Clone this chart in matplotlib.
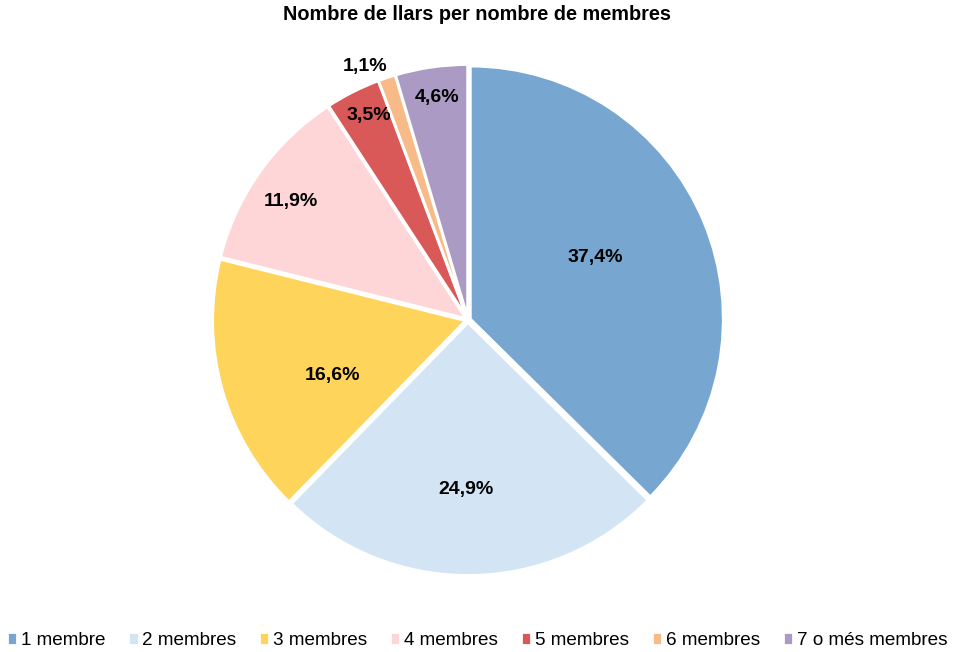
#!/usr/bin/env python3
import numpy as np
import matplotlib
matplotlib.use("Agg")
import matplotlib.pyplot as plt

plt.rcParams['font.family'] = ['Liberation Sans', 'DejaVu Sans']

categories = ["1 membre", "2 membres", "3 membres", "4 membres",
              "5 membres", "6 membres", "7 o més membres"]
values = [37.4, 24.9, 16.6, 11.9, 3.5, 1.1, 4.6]
colors = ["#77A6D0", "#D3E5F4", "#FFD45B", "#FFD6D7",
          "#D95858", "#F8BA86", "#AB9AC4"]
# label placement: radius (fraction of pie radius) and angle shift (deg)
label_r = [0.56, 0.67, 0.58, 0.84, 0.90, 1.08, 0.89]
label_shift = [3.5, -1.3, 6.5, 1.7, -0.9, 3.6, -0.3]

fig = plt.figure(figsize=(9.54, 6.52), dpi=100)
r_px = 258
cx, cy = 468, 320
ax = fig.add_axes([(cx - r_px) / 954, (652 - cy - r_px) / 652,
                   2 * r_px / 954, 2 * r_px / 652])

wedges, _ = ax.pie(values, colors=colors, startangle=90, counterclock=False,
                   explode=[0.01] * len(values),
                   wedgeprops=dict(edgecolor="white", linewidth=2))
ax.set_xlim(-1.02, 1.02)
ax.set_ylim(-1.02, 1.02)
ax.set_aspect("equal")

for w, v, r, s in zip(wedges, values, label_r, label_shift):
    ang = np.deg2rad((w.theta1 + w.theta2) / 2 + s)
    ax.text(r * np.cos(ang), r * np.sin(ang), ("%.1f%%" % v).replace(".", ","),
            ha="center", va="center", fontsize=14, fontweight="bold")

fig.text(0.5, 0.978, "Nombre de llars per nombre de membres", ha="center",
         va="center", fontsize=14.3, fontweight="bold")

leg = fig.legend(wedges, categories, loc="center", bbox_to_anchor=(0.5, 0.018),
                 ncol=7, frameon=False, fontsize=13.6, handlelength=0.55,
                 handleheight=0.7, handletextpad=0.2, columnspacing=1.2)

plt.savefig("out.png", dpi=100)
